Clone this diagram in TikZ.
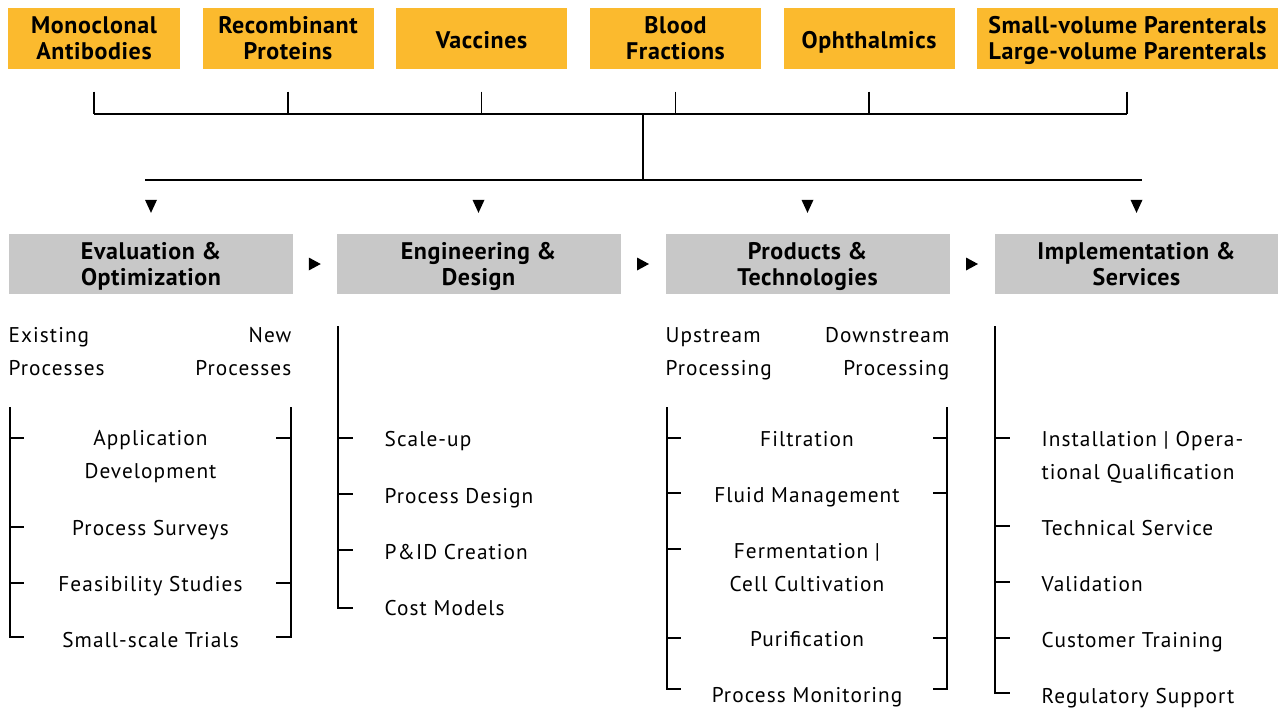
\documentclass[tikz,border=0pt]{standalone}
\usepackage{fontspec}
\setmainfont{PT Sans}
\newfontfamily\bodyfam{PT Sans}[LetterSpace=5]
\newfontfamily\headfam{PT Sans}[LetterSpace=2.5]
\usetikzlibrary{calc}
\definecolor{ybox}{RGB}{251,186,46}
\definecolor{gbox}{RGB}{200,200,200}
\newcommand\hdfont{\headfam\bfseries\fontsize{24}{25.5}\selectfont}
\newcommand\bdfont{\bodyfam\fontsize{21.3}{33}\selectfont}
\begin{document}
\begin{tikzpicture}[x=1pt,y=-1pt,line width=1.3pt,
  topbox/.style={fill=ybox, inner sep=0pt, minimum height=61pt, align=center, font=\hdfont},
  onetop/.style={topbox, text height=20.4pt, text depth=0pt},
  twotop/.style={topbox, text depth=1pt},
  stagebox/.style={fill=gbox, inner sep=0pt, minimum width=284pt, minimum height=60pt, align=center, font=\hdfont, text depth=-1pt},
  item/.style={inner sep=0pt, font=\bdfont},
  tri/.style={fill=black, draw=none}]
\useasboundingbox (0,0) rectangle (1278,710);
% top product boxes
\node[twotop, minimum width=172pt] (p1) at (94,38.5) {Monoclonal\\Antibodies};
\node[twotop, minimum width=171pt] (p2) at (288,38.5) {Recombinant\\Proteins};
\node[onetop, minimum width=171pt] (p3) at (481.5,38.5) {Vaccines};
\node[twotop, minimum width=171pt] (p4) at (675.5,38.5) {Blood\\Fractions};
\node[onetop, minimum width=171pt] (p5) at (869,38.5) {Ophthalmics};
\node[twotop, minimum width=301pt] (p6) at (1127.5,38.5) {Small-volume Parenterals\\Large-volume Parenterals};
% bus lines
\coordinate (busL) at (94,114);
\coordinate (busR) at (1127,114);
\coordinate (busM) at (643,114);
\coordinate (bus2M) at (643,180);
\coordinate (bus2L) at (145,180);
\coordinate (bus2R) at (1142,180);
\foreach \p in {p1,p2,p3,p4,p5}{
  \draw ([yshift=-22pt]\p.south) -- (\p.south |- busL);
}
\draw ([yshift=-22pt]p6.south) ++(-0.5,0) coordinate (p6d) -- (p6d |- busR);
\draw (busL) -- (busR);
\draw (busM) -- (bus2M);
\draw (bus2L) -- (bus2R);
% stage boxes
\node[stagebox] (s1) at (151,264) {Evaluation \&\\Optimization};
\node[stagebox] (s2) at (478.5,264) {Engineering \&\\Design};
\node[stagebox] (s3) at (807.5,264) {Products \&\\Technologies};
\node[stagebox] (s4) at (1136.5,264) {Implementation \&\\Services};
% down triangles
\foreach \s in {s1,s2,s3,s4}{
  \fill[tri] ([yshift=27pt]\s.north) ++(-6,-6.5) -- ++(12,0) -- ++(-6,13) -- cycle;
}
% right triangles
\fill[tri] ($(s1.east)!0.5!(s2.west)$) ++(-6,-6.5) -- ++(0,13) -- ++(12,-6.5) -- cycle;
\fill[tri] ($(s2.east)!0.5!(s3.west)$) ++(-6,-6.5) -- ++(0,13) -- ++(12,-6.5) -- cycle;
\fill[tri] ($(s3.east)!0.5!(s4.west)$) ++(-6,-6.5) -- ++(0,13) -- ++(12,-6.5) -- cycle;
% column 1
\node[item, anchor=base west, align=left] (ex) at (8,375.5) {Existing\\Processes};
\node[item, anchor=base east, align=right] (nw) at (292,375.5) {New\\Processes};
\node[item, anchor=base, align=center] (a1) at (150.5,478) {Application\\Development};
\node[item, anchor=base] (a2) at (150.5,535) {Process Surveys};
\node[item, anchor=base] (a3) at (150.5,591) {Feasibility Studies};
\node[item, anchor=base] (a4) at (150.5,647) {Small-scale Trials};
\draw (10,407) -- (10,637) -- (24,637);
\foreach \y in {438,527,583}{\draw (10,\y) -- (24,\y);}
\draw (291,407) -- (291,637) -- (276,637);
\foreach \y in {438,583}{\draw (291,\y) -- (276,\y);}
% column 2
\node[item, anchor=base west] (b1) at (384,446) {Scale-up};
\node[item, anchor=base west] (b2) at (384,503) {Process Design};
\node[item, anchor=base west] (b3) at (384,559) {P\&ID Creation};
\node[item, anchor=base west] (b4) at (384,615) {Cost Models};
\draw (338,326) -- (338,608) -- (353,608);
\foreach \y in {438,494,550}{\draw (338,\y) -- (353,\y);}
% column 3
\node[item, anchor=base west, align=left] (up) at (665,375.5) {Upstream\\Processing};
\node[item, anchor=base east, align=right] (dn) at (950,375.5) {Downstream\\Processing};
\node[item, anchor=base] (c1) at (807,446) {Filtration};
\node[item, anchor=base] (c2) at (807,502) {Fluid Management};
\node[item, anchor=base, align=center] (c3) at (807,591) {Fermentation |\\Cell Cultivation};
\node[item, anchor=base] (c4) at (807,646) {Purification};
\node[item, anchor=base] (c5) at (807,702) {Process Monitoring};
\draw (667,407) -- (667,689) -- (681,689);
\foreach \y in {438,493,549,638}{\draw (667,\y) -- (681,\y);}
\draw (947,407) -- (947,689) -- (933,689);
\foreach \y in {438,493,638}{\draw (947,\y) -- (933,\y);}
% column 4
\node[item, anchor=base west, align=left] (d1) at (1041,479) {Installation | Opera-\\tional Qualification};
\node[item, anchor=base west] (d2) at (1041,535) {Technical Service};
\node[item, anchor=base west] (d3) at (1041,591) {Validation};
\node[item, anchor=base west] (d4) at (1041,647) {Customer Training};
\node[item, anchor=base west] (d5) at (1041,703) {Regulatory Support};
\draw (995,326) -- (995,693) -- (1010,693);
\foreach \y in {438,526,582,638}{\draw (995,\y) -- (1010,\y);}
\end{tikzpicture}
\end{document}
